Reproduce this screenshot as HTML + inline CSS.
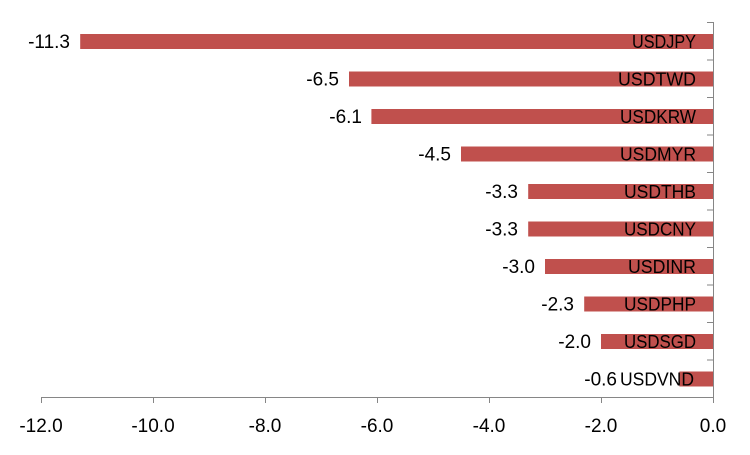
<!DOCTYPE html>
<html><head><style>body{margin:0;background:#fff}</style></head><body>
<svg width="750" height="450" xmlns="http://www.w3.org/2000/svg" font-family="Liberation Sans, sans-serif" font-size="16" fill="#000">
<rect width="750" height="450" fill="#fff"/>
<g fill="#C0504D">
<rect x="80.2" y="34" width="632.8" height="15"/>
<rect x="349" y="71.5" width="364" height="15"/>
<rect x="371.4" y="109" width="341.6" height="15"/>
<rect x="461" y="146.5" width="252" height="15"/>
<rect x="528.2" y="184" width="184.8" height="15"/>
<rect x="528.2" y="221.5" width="184.8" height="15"/>
<rect x="545" y="259" width="168" height="15"/>
<rect x="584.2" y="296.5" width="128.8" height="15"/>
<rect x="601" y="334" width="112" height="15"/>
<rect x="679.4" y="371.5" width="33.6" height="15"/>
</g>
<g stroke="#868686" stroke-width="1">
<line x1="713.5" y1="22" x2="713.5" y2="397"/>
<line x1="41" y1="397.5" x2="713.5" y2="397.5"/>
<line x1="707" y1="22.5" x2="713" y2="22.5"/><line x1="707" y1="60" x2="713" y2="60"/><line x1="707" y1="97.5" x2="713" y2="97.5"/><line x1="707" y1="135" x2="713" y2="135"/><line x1="707" y1="172.5" x2="713" y2="172.5"/><line x1="707" y1="210" x2="713" y2="210"/><line x1="707" y1="247.5" x2="713" y2="247.5"/><line x1="707" y1="285" x2="713" y2="285"/><line x1="707" y1="322.5" x2="713" y2="322.5"/><line x1="707" y1="360" x2="713" y2="360"/>
<line x1="41.5" y1="397" x2="41.5" y2="403"/><line x1="153.5" y1="397" x2="153.5" y2="403"/><line x1="265.5" y1="397" x2="265.5" y2="403"/><line x1="377.5" y1="397" x2="377.5" y2="403"/><line x1="489.5" y1="397" x2="489.5" y2="403"/><line x1="601.5" y1="397" x2="601.5" y2="403"/><line x1="713.5" y1="397" x2="713.5" y2="403"/>
</g>
<g font-size="18" lengthAdjust="spacingAndGlyphs">
<text x="632" y="48" textLength="64" lengthAdjust="spacingAndGlyphs">USDJPY</text>
<text x="618" y="85.5" textLength="78" lengthAdjust="spacingAndGlyphs">USDTWD</text>
<text x="620" y="123" textLength="76" lengthAdjust="spacingAndGlyphs">USDKRW</text>
<text x="620" y="160.5" textLength="76" lengthAdjust="spacingAndGlyphs">USDMYR</text>
<text x="624" y="198" textLength="72" lengthAdjust="spacingAndGlyphs">USDTHB</text>
<text x="624" y="235.5" textLength="72" lengthAdjust="spacingAndGlyphs">USDCNY</text>
<text x="628" y="273" textLength="68" lengthAdjust="spacingAndGlyphs">USDINR</text>
<text x="624" y="310.5" textLength="72" lengthAdjust="spacingAndGlyphs">USDPHP</text>
<text x="624" y="348" textLength="72" lengthAdjust="spacingAndGlyphs">USDSGD</text>
<text x="620" y="385.5" textLength="74" lengthAdjust="spacingAndGlyphs">USDVND</text>
</g>
<g text-anchor="end" font-size="19">
<text x="70" y="48">-11.3</text><text x="339" y="85.5">-6.5</text><text x="362" y="123">-6.1</text><text x="451" y="160.5">-4.5</text><text x="518" y="198">-3.3</text><text x="518" y="235.5">-3.3</text><text x="535" y="273">-3.0</text><text x="574" y="310.5">-2.3</text><text x="591" y="348">-2.0</text><text x="617" y="385.5">-0.6</text>
</g>
<g text-anchor="middle" font-size="19">
<text x="41" y="432">-12.0</text><text x="153" y="432">-10.0</text><text x="265" y="432">-8.0</text><text x="377" y="432">-6.0</text><text x="489" y="432">-4.0</text><text x="601" y="432">-2.0</text><text x="713" y="432">0.0</text>
</g>
</svg>
</body></html>
